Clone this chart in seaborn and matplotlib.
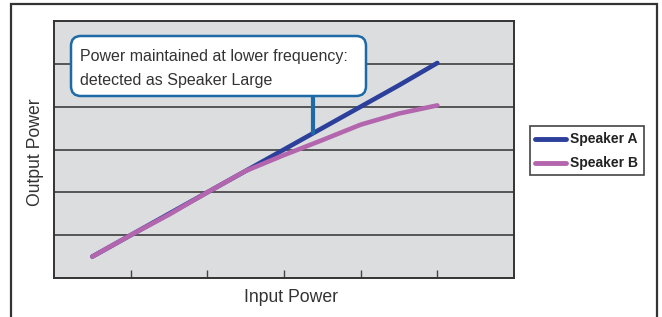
import matplotlib
matplotlib.use("Agg")
import matplotlib.pyplot as plt
import seaborn as sns
import pandas as pd
from matplotlib.patches import Rectangle, FancyBboxPatch

input_power = [0.5, 1.0, 1.5, 2.0, 2.5, 3.0, 3.5, 4.0, 4.5, 5.0]
speaker_a = [0.5, 1.0, 1.5, 2.0, 2.5, 3.0, 3.5, 4.0, 4.5, 5.02]
speaker_b = [0.5, 1.0, 1.48, 2.0, 2.5, 2.87, 3.22, 3.58, 3.84, 4.03]
series_names = ["Speaker A", "Speaker B"]
annotation = "Power maintained at lower frequency:\ndetected as Speaker Large"
x_label = "Input Power"
y_label = "Output Power"

df = pd.DataFrame({
    "Input Power": input_power * 2,
    "Output Power": speaker_a + speaker_b,
    "Series": [series_names[0]] * len(input_power) + [series_names[1]] * len(input_power),
})

sns.set_theme(style="white")
plt.rcParams["font.family"] = ["Liberation Sans", "DejaVu Sans"]

W, H = 662, 317
fig = plt.figure(figsize=(W / 100, H / 100), dpi=100)
ax = fig.add_axes([54 / W, 1 - 278 / H, (514 - 54) / W, (278 - 21) / H])
ax.set_facecolor("#dcdddf")

palette = {"Speaker A": "#2b3f9b", "Speaker B": "#b366ae"}
sns.lineplot(data=df, x="Input Power", y="Output Power", hue="Series",
             palette=palette, linewidth=3.3, ax=ax, legend=False, zorder=3)

ax.set_xlim(0, 6)
ax.set_ylim(0, 6)
ax.set_xticks([1, 2, 3, 4, 5])
ax.set_yticks([1, 2, 3, 4, 5])
ax.set_xticklabels([])
ax.set_yticklabels([])
ax.tick_params(axis="x", direction="in", length=6, width=1, color="#444", bottom=True)
ax.tick_params(axis="y", length=0)
ax.grid(axis="y", color="#555555", linewidth=1.4)
ax.set_axisbelow(True)
for s in ax.spines.values():
    s.set_color("#333333")
    s.set_linewidth(1.4)
ax.set_xlabel("")
ax.set_ylabel("")

# axis labels
fig.text(291 / W, 1 - 298 / H, x_label, ha="center", va="center", fontsize=12.7, color="#333333")
fig.text(35 / W, 1 - 152 / H, y_label, ha="center", va="center", rotation=90, fontsize=12.7, color="#333333")

# annotation box and stem
box_color = "#1e6aa6"
fig.add_artist(plt.Line2D([313 / W, 313 / W], [1 - 96 / H, 1 - 133 / H], color=box_color, linewidth=3, zorder=4))
bx0, by0, bx1, by1 = 71, 36, 366, 96
fig.add_artist(FancyBboxPatch((bx0 / W, 1 - by1 / H), (bx1 - bx0) / W, (by1 - by0) / H,
                              boxstyle="round,pad=0,rounding_size=0.015",
                              facecolor="white", edgecolor=box_color, linewidth=1.8,
                              transform=fig.transFigure, zorder=5, mutation_aspect=W / H))
fig.text(80 / W, 1 - 57 / H, annotation.split("\n")[0], ha="left", va="center", fontsize=11.5, color="#333333", zorder=6)
fig.text(80 / W, 1 - 80 / H, annotation.split("\n")[1], ha="left", va="center", fontsize=11.5, color="#333333", zorder=6)

# legend
lx0, ly0, lx1, ly1 = 530, 126, 644, 175
fig.add_artist(Rectangle((lx0 / W, 1 - ly1 / H), (lx1 - lx0) / W, (ly1 - ly0) / H,
                         facecolor="white", edgecolor="#444444", linewidth=1.2,
                         transform=fig.transFigure))
for i, name in enumerate(series_names):
    yy = 1 - (139 + i * 24) / H
    fig.add_artist(plt.Line2D([535 / W, 566 / W], [yy, yy], color=palette[name], linewidth=3.5))
    fig.text(570 / W, yy, name, ha="left", va="center", fontsize=10, fontweight="bold",
             color="#222222")

# outer frame
fig.add_artist(Rectangle((11 / W, -0.05), (657 - 11) / W, 1 - 4 / H + 0.05,
                         facecolor="none", edgecolor="#333333", linewidth=1.6,
                         transform=fig.transFigure, clip_on=False))

fig.savefig("out.png", dpi=100, facecolor="white")
